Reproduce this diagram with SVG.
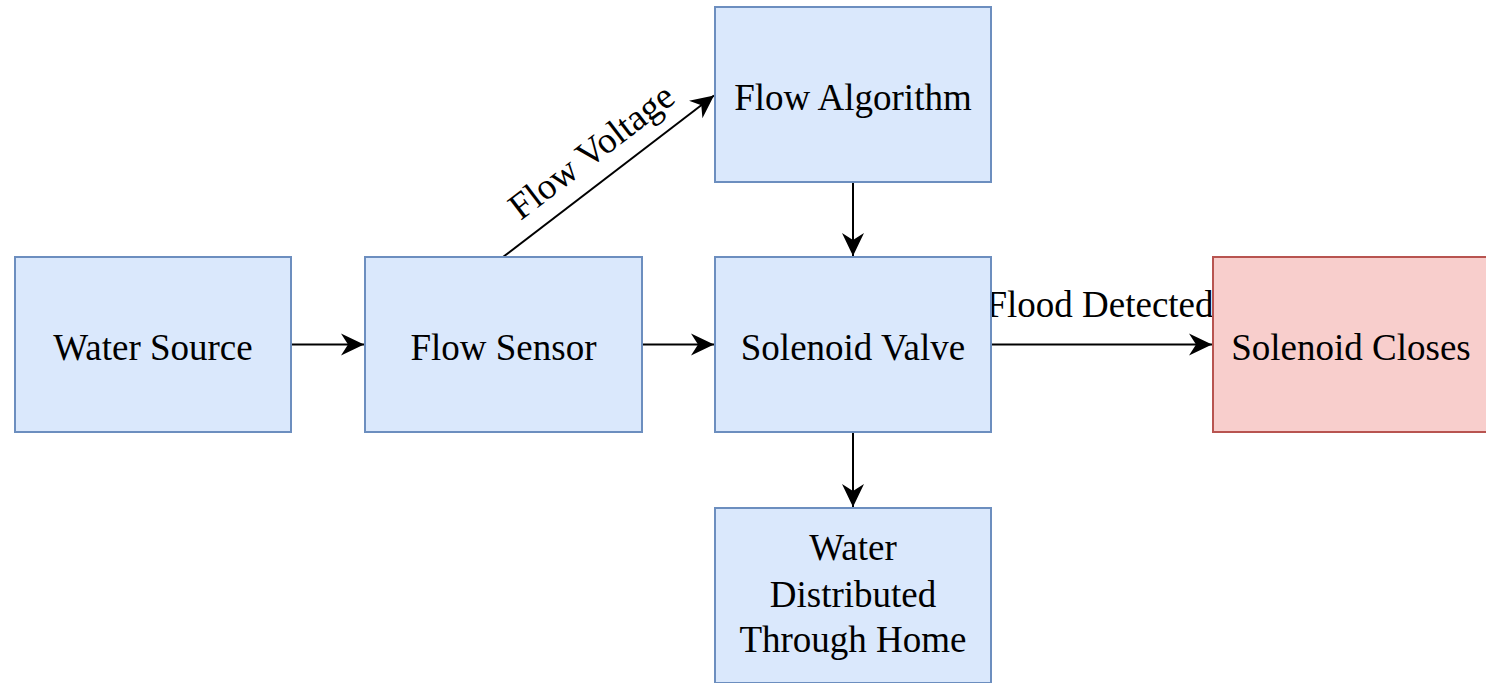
<svg xmlns="http://www.w3.org/2000/svg" width="1486" height="683" viewBox="0 0 1486 683">
<style>
.blue{fill:#dae8fc;stroke:#6c8ebf;stroke-width:2}
.red{fill:#f8cecc;stroke:#b85450;stroke-width:2}
text{font-family:'Liberation Serif','Times New Roman',serif;font-size:37px;fill:#000;text-anchor:middle}
.e{stroke:#000;stroke-width:2;fill:none;marker-end:url(#arr)}
</style>
<defs>
<marker id="arr" markerUnits="userSpaceOnUse" markerWidth="26" markerHeight="24" viewBox="-25 -12 26 24" refX="0" refY="0" orient="auto">
<path d="M0,0 L-23,-11 L-16,0 L-23,11 Z" fill="#000"/>
</marker>
</defs>
<rect width="1486" height="683" fill="#fff"/>
<g id="connectors">
<line class="e" x1="291" y1="344.5" x2="364" y2="344.5"/>
<line class="e" x1="642" y1="344.5" x2="714" y2="344.5"/>
<line class="e" x1="991" y1="344.5" x2="1212" y2="344.5"/>
<line class="e" x1="853" y1="182" x2="853" y2="256"/>
<line class="e" x1="853" y1="432" x2="853" y2="507"/>
<line class="e" x1="503" y1="257" x2="714" y2="95.5"/>
<text font-family="Liberation Serif, serif" x="1100" y="317">Flood Detected</text>
<text font-family="Liberation Serif, serif" x="610" y="158" transform="rotate(-37.4 609 176)">Flow Voltage</text>
</g>
<g id="water-source">
<rect class="blue" x="15" y="257" width="276" height="175"/>
<text font-family="Liberation Serif, serif" x="153" y="360">Water Source</text>
</g>
<g id="flow-sensor">
<rect class="blue" x="365" y="257" width="277" height="175"/>
<text font-family="Liberation Serif, serif" x="503.5" y="360">Flow Sensor</text>
</g>
<g id="flow-algorithm">
<rect class="blue" x="715" y="7" width="276" height="175"/>
<text font-family="Liberation Serif, serif" x="853" y="110">Flow Algorithm</text>
</g>
<g id="solenoid-valve">
<rect class="blue" x="715" y="257" width="276" height="175"/>
<text font-family="Liberation Serif, serif" x="853" y="360">Solenoid Valve</text>
</g>
<g id="water-distributed">
<rect class="blue" x="715" y="508" width="276" height="175"/>
<text font-family="Liberation Serif, serif" x="853" y="560">Water</text>
<text font-family="Liberation Serif, serif" x="853" y="607">Distributed</text>
<text font-family="Liberation Serif, serif" x="853" y="652">Through Home</text>
</g>
<g id="solenoid-closes">
<rect class="red" x="1213" y="257" width="276" height="175"/>
<text font-family="Liberation Serif, serif" x="1351" y="360">Solenoid Closes</text>
</g>
</svg>
